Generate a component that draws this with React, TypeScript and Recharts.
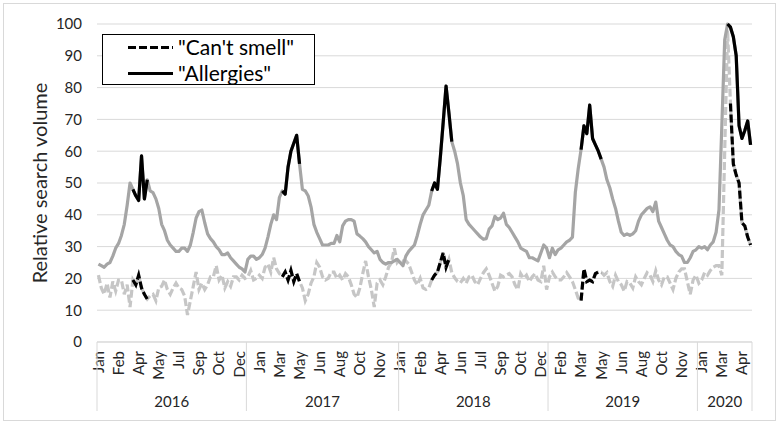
import { LineChart, Line, XAxis, YAxis, CartesianGrid } from 'recharts';

// weekly Google-trends style values, Jan 3 2016 .. May 10 2020 (228 weeks)
const allergies = [
  // 2016
  24.5, 24, 23.5, 24.5, 25, 27, 29.5, 31, 33.5, 37,
  43, 50, 48, 46, 44.5, 58.5, 45, 51, 47.5, 47,
  45, 42, 37, 35, 32, 30.5, 29.5, 28.5, 28.5, 29.5,
  29.5, 28.5, 30.5, 34.5, 39, 41, 41.5, 37.5, 34, 32.5,
  31.5, 30, 29, 27.5, 27.5, 28, 26.5, 25.5, 24.5, 23.5,
  23, 22,
  // 2017
  26, 27, 27, 26, 26.5, 27.5, 29.5, 33, 37, 40,
  38.5, 45.5, 47.5, 46.5, 55, 60, 62.5, 65, 56, 48,
  47.5, 46, 42.5, 37, 34.5, 32.5, 30.5, 30.5, 30.5, 31,
  31, 33.5, 31.5, 36.5, 38, 38.5, 38.5, 38, 34, 33.3,
  32.5, 31.5, 30, 29, 28, 28.5, 26, 25, 24.5, 25,
  25, 25.5, 26,
  // 2018
  25, 24, 27, 28.5, 29.5, 30.5, 33.5, 37, 40, 41.5,
  43, 47.5, 50, 48, 58, 69, 80.5, 72, 63, 60,
  56, 50, 46, 38.5, 37, 36, 35, 34, 33, 32.3,
  32.5, 35.5, 36.5, 39.5, 38.5, 39, 40.5, 37, 36, 34.5,
  33, 31.5, 29.5, 29, 28.5, 26.5, 26.5, 26, 25.5, 28,
  30.5, 29.5,
  // 2019
  26.5, 29.5, 27.5, 29, 29.5, 30.5, 31.5, 32, 33, 47,
  54.5, 60.5, 68, 65.5, 74.5, 64, 62, 60, 57.5, 55,
  51, 48.5, 45, 42, 38, 34.5, 33.5, 34, 33.5, 34,
  35, 38, 40, 41, 42, 42.5, 41, 44, 38, 36,
  34, 32, 30.5, 30, 28.5, 27.5, 27, 25, 25, 26.5,
  28.5, 29,
  // 2020
  30, 29.5, 30, 29, 30.5, 31.5, 34.5, 41.5, 68, 95,
  100, 99, 96, 90, 68, 64, 66.5, 69.5, 62,
];

const cantSmell = [
  // 2016
  21, 17, 15, 18.5, 14, 19, 16, 19.5, 19.5, 15,
  18, 11, 19.5, 18, 21, 17, 15, 13.5, 14.5, 15,
  13, 17, 17.5, 19.5, 16.5, 15, 17, 18.5, 17, 16.5,
  14.5, 8.5, 13, 17.5, 22, 16.5, 18.5, 16.5, 18, 20.5,
  20.5, 24, 19.5, 21, 17, 19, 17.5, 20.5, 20.5, 19.5,
  21, 20,
  // 2017
  20.5, 22.5, 19.5, 20, 21, 20, 23.5, 24.5, 22, 26.5,
  23, 21.5, 20.5, 22, 19.5, 22.5, 19, 21.5, 19, 17,
  13, 15, 18.5, 20.5, 25, 23.5, 20.5, 19.5, 20, 22,
  22, 20, 21, 19.5, 21.5, 20.5, 18, 15, 14, 17,
  21.5, 25.5, 20.5, 16.5, 11, 18.5, 19.5, 18, 20.5, 23.5,
  25, 29.5, 25,
  // 2018
  26, 25.5, 25.5, 24.5, 22, 19.5, 18, 20, 17, 16.5,
  17, 19.5, 21, 22, 25, 28, 23.5, 26, 21.8, 20.2,
  19, 18.6, 20, 18.5, 20.5, 21, 19, 18, 20, 21.8,
  23, 21, 18.5, 16, 17.5, 21, 20.5, 21, 21.5, 20.5,
  18, 16.5, 21.5, 20, 21, 19, 20.5, 21.5, 19.5, 19,
  24, 16.5,
  // 2019
  20.5, 22, 20.5, 19.5, 19.5, 20.5, 21.8, 20.5, 19, 16.5,
  13.8, 13, 23, 19, 19.5, 19, 21.5, 22, 22, 21,
  21.8, 19, 17.5, 21, 19, 18, 16, 19, 18.5, 17,
  20.5, 19, 18, 20, 21.8, 21, 19, 22.4, 19.5, 18,
  20.5, 20.5, 18.5, 16.5, 20, 22, 23, 23, 19, 15,
  19.5, 21,
  // 2020
  18.5, 19.5, 21.8, 21, 22.5, 23.5, 24, 24, 21, 60,
  98, 75, 56, 52.5, 50, 37.5, 36.5, 33, 30.5,
];

// spring weeks drawn in black (inclusive week indexes)
const allergyHighlights = [[12, 17], [64, 70], [116, 123], [168, 175], [219, 227]];
const smellHighlights = [[12, 17], [64, 70], [116, 122], [168, 175], [220, 227]];

const monthTickIdx = [
  0, 7, 14, 21, 28, 35, 42, 49,
  56, 63, 70, 77, 84, 91, 98,
  105, 112, 119, 126, 133, 140, 147, 154,
  161, 168, 175, 182, 189, 196, 203,
  210, 217, 224,
];
const monthTickLabels = [
  'Jan', 'Feb', 'Apr', 'May', 'Jul', 'Sep', 'Oct', 'Dec',
  'Jan', 'Mar', 'May', 'Jun', 'Aug', 'Oct', 'Nov',
  'Jan', 'Feb', 'Apr', 'Jun', 'Jul', 'Sep', 'Oct', 'Dec',
  'Feb', 'Mar', 'May', 'Jun', 'Aug', 'Oct', 'Nov',
  'Jan', 'Mar', 'Apr',
];

const yearBounds = [0, 52, 105, 157, 209, 228];
const yearLabels = ['2016', '2017', '2018', '2019', '2020'];
const yTicks = [0, 10, 20, 30, 40, 50, 60, 70, 80, 90, 100];

const N = allergies.length;
const FONT = 'Lato, "Open Sans", sans-serif';
const TEXT = '#262626';
const PLOT_BOTTOM = 342;

const inWin = (i: number, wins: number[][]) => wins.some(([a, b]) => i >= a && i <= b);

const data = allergies.map((v, i) => ({
  x: i + 0.5,
  allergies: v,
  smell: cantSmell[i],
  allergiesHi: inWin(i, allergyHighlights) ? v : null,
  smellHi: inWin(i, smellHighlights) ? cantSmell[i] : null,
}));

const yearCenters = yearLabels.map((_, k) => (yearBounds[k] + yearBounds[k + 1]) / 2);

function MonthTick({ x, y, index }: any) {
  return (
    <text
      x={x}
      y={y}
      transform={`rotate(-90 ${x} ${y})`}
      textAnchor="end"
      dy="0.36em"
      fontSize={15}
      fontFamily={FONT}
      fill={TEXT}
    >
      {monthTickLabels[index]}
    </text>
  );
}

function YearTick({ x, payload }: any) {
  const v = payload.value;
  if (yearBounds.includes(v)) {
    return <line x1={x} x2={x} y1={PLOT_BOTTOM} y2={411} stroke="#d9d9d9" strokeWidth={1} />;
  }
  const k = yearCenters.indexOf(v);
  return (
    <text x={x} y={407} textAnchor="middle" fontSize={15} fontFamily={FONT} fill={TEXT}>
      {yearLabels[k]}
    </text>
  );
}

export default function App() {
  return (
    <div style={{ position: 'absolute', left: 0, top: 0, width: 777, height: 423, background: '#fff', fontFamily: FONT }}>
      <div style={{ position: 'absolute', left: 3, top: 3, width: 771, height: 416, border: '1px solid #d9d9d9' }} />
      <LineChart width={777} height={423} data={data} margin={{ top: 24, right: 25, left: 37, bottom: 11 }}>
        <CartesianGrid xAxisId="m" vertical={false} stroke="#d9d9d9" strokeWidth={1} />
        <XAxis
          xAxisId="m"
          type="number"
          dataKey="x"
          domain={[0, N]}
          ticks={monthTickIdx.map((i) => i + 0.5)}
          interval={0}
          height={40}
          tickLine={false}
          tickSize={6}
          tickMargin={3}
          axisLine={{ stroke: '#d9d9d9' }}
          tick={<MonthTick />}
        />
        <XAxis
          xAxisId="y"
          type="number"
          dataKey="x"
          domain={[0, N]}
          ticks={[...yearBounds, ...yearCenters]}
          interval={0}
          height={30}
          tickLine={false}
          axisLine={false}
          tick={<YearTick />}
        />
        <YAxis
          domain={[0, 100]}
          ticks={yTicks}
          interval={0}
          width={60}
          axisLine={false}
          tickLine={false}
          tickSize={0}
          tickMargin={15}
          tick={{ fontSize: 15, fill: TEXT, fontFamily: FONT }}
        />
        <Line xAxisId="m" dataKey="smell" stroke="#c6c6c6" strokeWidth={3.2} strokeDasharray="8 3" dot={false} isAnimationActive={false} />
        <Line xAxisId="m" dataKey="allergies" stroke="#a5a5a5" strokeWidth={3.2} strokeLinejoin="round" dot={false} isAnimationActive={false} />
        <Line xAxisId="m" dataKey="smellHi" stroke="#000" strokeWidth={3.2} strokeDasharray="8 3" dot={false} isAnimationActive={false} />
        <Line xAxisId="m" dataKey="allergiesHi" stroke="#000" strokeWidth={3.2} strokeLinejoin="round" dot={false} isAnimationActive={false} />
      </LineChart>
      <svg width={777} height={423} style={{ position: 'absolute', left: 0, top: 0, pointerEvents: 'none' }}>
        <text x={40} y={183} transform="rotate(-90 40 183)" textAnchor="middle" dy="0.35em" fontSize={20} fontFamily={FONT} fill={TEXT}>
          Relative search volume
        </text>
      </svg>
      <div
        style={{
          position: 'absolute', left: 102, top: 34, width: 211, height: 49,
          border: '1.5px solid #000', background: '#fff',
        }}
      >
        <svg width={211} height={49} style={{ position: 'absolute', left: 0, top: 0 }}>
          <line x1={25} x2={70} y1={12.5} y2={12.5} stroke="#000" strokeWidth={3.2} strokeDasharray="8 3" />
          <line x1={25} x2={70} y1={38.5} y2={38.5} stroke="#000" strokeWidth={3.2} />
          <text x={75} y={12.5} dy="0.36em" fontSize={21} fontFamily={FONT} fill="#000">"Can't smell"</text>
          <text x={75} y={38.5} dy="0.36em" fontSize={21} fontFamily={FONT} fill="#000">"Allergies"</text>
        </svg>
      </div>
    </div>
  );
}
